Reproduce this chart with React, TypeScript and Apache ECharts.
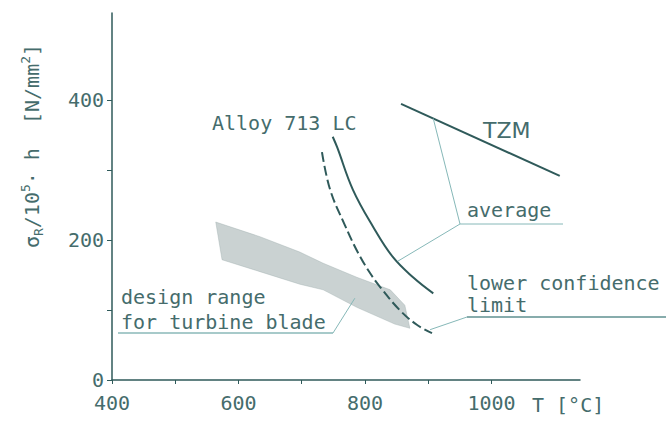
import React, { useEffect, useRef } from "react";
import * as echarts from "echarts";

// axis ticks / labels
const xTicks = [400, 500, 600, 700, 800, 900, 1000];
const xTickLabels = [400, 600, 800, 1000];
const yTicks = [0, 100, 200, 300, 400];
const yTickLabels = [0, 200, 400];

// TZM average
const tzmT = [857, 1108];
const tzmS = [395, 292];

// Alloy 713 LC average
const avgT = [749, 756, 781, 813, 844, 876, 908];
const avgS = [348, 333, 272, 219, 176, 147, 124];

// Alloy 713 LC lower confidence limit
const lclT = [732, 745, 768, 789, 808, 824, 855, 882, 906];
const lclS = [326, 272, 222, 182, 153, 133, 100, 79, 67];

// design range for turbine blade (polygon outline)
const bandT = [564, 634, 697, 734, 787, 840, 863, 871, 847, 787, 734, 697, 634, 574];
const bandS = [226, 205, 183, 167, 147, 129, 107, 74, 80, 104, 129, 137, 155, 172];

// annotation anchor points on the curves (data coords)
const anchorTzm = [908, 374];
const anchorAvg = [852, 170];
const anchorLcl = [903, 72];
const anchorBand = [784, 117];

const INK = "#2f5a5a";
const TXT = "#456c6c";
const LEAD = "#86b8b8";
const MONO = "'DejaVu Sans Mono', monospace";

export default function App() {
  const ref = useRef<HTMLDivElement>(null);
  useEffect(() => {
    document.body.style.margin = "0";
    const chart = echarts.init(ref.current!, null, { renderer: "svg" });
    const zip = (a: number[], b: number[]) => a.map((v, i) => [v, b[i]]);
    const bandPts = zip(bandT, bandS);
    chart.setOption({
      animation: false,
      grid: { left: 112, top: 13, right: 86, bottom: 41, containLabel: false, outerBoundsMode: "none" },
      xAxis: {
        type: "value",
        min: 400,
        max: 1140,
        interval: 100,
        axisLine: { lineStyle: { color: INK, width: 1.5 } },
        axisTick: { show: true, length: 4, customValues: xTicks, lineStyle: { color: INK, width: 1 } },
        axisLabel: {
          customValues: xTickLabels,
          formatter: (v: number) => String(v),
          margin: 15,
          lineHeight: 16,
          color: TXT,
          fontFamily: MONO,
          fontSize: 20,
        },
        splitLine: { show: false },
      },
      yAxis: {
        type: "value",
        min: 0,
        max: 525,
        interval: 100,
        axisLine: { show: true, lineStyle: { color: INK, width: 1.5 } },
        axisTick: { show: true, length: 5, customValues: yTicks, lineStyle: { color: INK, width: 1 } },
        axisLabel: {
          customValues: yTickLabels,
          formatter: (v: number) => String(v),
          margin: 8,
          lineHeight: 16,
          color: TXT,
          fontFamily: MONO,
          fontSize: 20,
        },
        splitLine: { show: false },
      },
      series: [
        {
          type: "custom",
          z: 1,
          data: [[700, 150]],
          renderItem: (_p: any, api: any) => ({
            type: "polygon",
            shape: { points: bandPts.map((p) => api.coord(p)) },
            style: { fill: "rgba(150,165,165,0.5)", stroke: "rgba(150,165,165,0.35)", lineWidth: 1 },
          }),
        },
        {
          type: "line",
          z: 3,
          data: zip(tzmT, tzmS),
          symbol: "none",
          lineStyle: { color: INK, width: 2 },
        },
        {
          type: "line",
          z: 3,
          data: zip(avgT, avgS),
          smooth: 0.4,
          symbol: "none",
          lineStyle: { color: INK, width: 2 },
        },
        {
          type: "line",
          z: 3,
          data: zip(lclT, lclS),
          smooth: 0.4,
          symbol: "none",
          lineStyle: { color: INK, width: 2, type: [10, 4] },
        },
      ],
    });

    const px = (p: number[]) => chart.convertToPixel({ gridIndex: 0 }, p) as number[];
    const line = (x1: number, y1: number, x2: number, y2: number, color = LEAD, w = 1) => ({
      type: "line",
      z: 10,
      shape: { x1, y1, x2, y2 },
      style: { stroke: color, lineWidth: w },
    });
    const text = (t: string, x: number, y: number, size = 20, fam = MONO, fw = "normal") => ({
      type: "text",
      z: 10,
      x,
      y,
      style: { text: t, fill: TXT, fontFamily: fam, fontSize: size, fontWeight: fw, align: "left", verticalAlign: "middle" },
    });
    const aT = px(anchorTzm);
    const aA = px(anchorAvg);
    const aL = px(anchorLcl);
    const aB = px(anchorBand);

    chart.setOption({
      graphic: [
        {
          type: "text",
          z: 10,
          x: 32,
          y: 146,
          rotation: Math.PI / 2,
          style: {
            text: "{a|σ}{b|R}{a|/10}{c|5}{a|· h  [N/mm}{c|2}{a|]}",
            align: "center",
            verticalAlign: "middle",
            rich: {
              a: { fontFamily: MONO, fontSize: 20, fill: TXT, lineHeight: 26, verticalAlign: "middle" },
              b: { fontFamily: MONO, fontSize: 13, fill: TXT, lineHeight: 26, verticalAlign: "bottom" },
              c: { fontFamily: MONO, fontSize: 13, fill: TXT, lineHeight: 26, verticalAlign: "top" },
            },
          },
        },
        text("T [°C]", 532, 405),
        text("Alloy 713 LC", 212, 123),
        text("TZM", 483, 130, 22, "'DejaVu Sans', sans-serif"),
        text("average", 467, 210),
        text("lower confidence", 467, 283),
        text("limit", 467, 305),
        text("design range", 121, 297),
        text("for turbine blade", 121, 322),
        line(460, 224, 563, 224),
        line(460, 224, aT[0], aT[1]),
        line(460, 224, aA[0], aA[1]),
        line(467, 317, 666, 317, "#5f9090", 1.5),
        line(467, 317, aL[0], aL[1]),
        line(118, 333, 333, 333, "#8ab8b8", 1.5),
        line(333, 333, aB[0], aB[1]),
      ],
    });
    return () => chart.dispose();
  }, []);
  return <div ref={ref} style={{ width: 666, height: 421 }} />;
}
